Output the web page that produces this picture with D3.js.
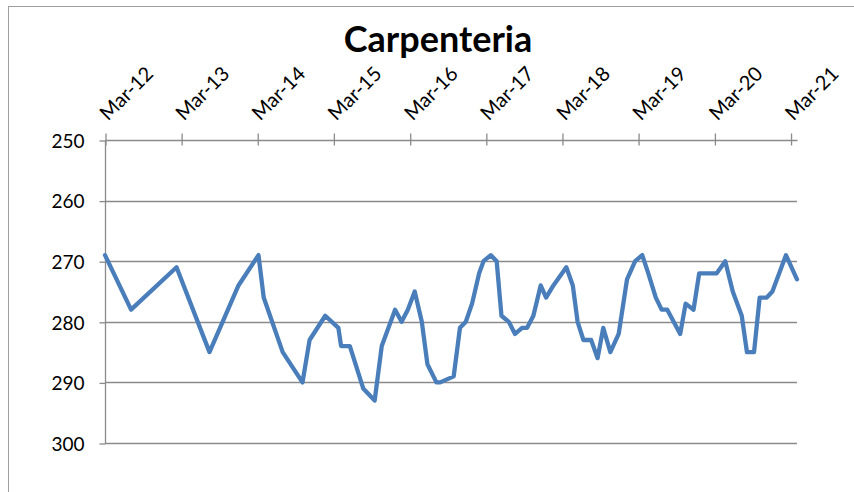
<!DOCTYPE html>
<html>
<head>
<meta charset="utf-8">
<script src="https://cdn.jsdelivr.net/npm/d3@7"></script>
<style>
  body { margin: 0; background: #fff; }
  svg { display: block; font-family: Lato, "Open Sans", sans-serif; }
  svg text { font-family: Lato, "Open Sans", sans-serif; }
</style>
</head>
<body>
<div id="chart"></div>
<script>
// --- data ---
const dates = [
  "2012-03-01", "2012-07-04", "2013-02-07", "2013-07-15", "2013-12-01",
  "2014-03-07", "2014-04-01", "2014-07-01", "2014-10-04", "2014-11-07",
  "2015-01-21", "2015-03-25", "2015-04-07", "2015-05-19", "2015-07-22",
  "2015-09-15", "2015-10-19", "2015-12-22", "2016-01-22", "2016-02-21",
  "2016-03-25", "2016-04-28", "2016-05-25", "2016-07-07", "2016-07-25",
  "2016-09-28", "2016-10-28", "2016-11-25", "2016-12-25", "2017-01-28",
  "2017-02-18", "2017-03-25", "2017-04-22", "2017-05-15", "2017-06-19",
  "2017-07-19", "2017-08-22", "2017-09-15", "2017-10-15", "2017-11-19",
  "2017-12-15", "2018-01-19", "2018-03-22", "2018-04-22", "2018-05-15",
  "2018-06-12", "2018-07-19", "2018-08-19", "2018-09-15", "2018-10-19",
  "2018-11-28", "2019-01-07", "2019-02-15", "2019-03-21", "2019-04-19",
  "2019-05-25", "2019-06-22", "2019-07-19", "2019-09-19", "2019-10-15",
  "2019-11-22", "2019-12-19", "2020-03-12", "2020-04-22", "2020-05-28",
  "2020-07-10", "2020-08-04", "2020-09-07", "2020-10-04", "2020-11-07",
  "2020-12-04", "2021-02-07", "2021-04-01"
];
const values = [
  269, 278, 271, 285, 274,
  269, 276, 285, 290, 283,
  279, 281, 284, 284, 291,
  293, 284, 278, 280, 278,
  275, 280, 287, 290, 290,
  289, 281, 280, 277, 272,
  270, 269, 270, 279, 280,
  282, 281, 281, 279, 274,
  276, 274, 271, 274, 280,
  283, 283, 286, 281, 285,
  282, 273, 270, 269, 272,
  276, 278, 278, 282, 277,
  278, 272, 272, 270, 275,
  279, 285, 285, 276, 276,
  275, 269, 273
];
const xTickLabels = ["Mar-12", "Mar-13", "Mar-14", "Mar-15", "Mar-16",
                     "Mar-17", "Mar-18", "Mar-19", "Mar-20", "Mar-21"];
const yTicks = [250, 260, 270, 280, 290, 300];
const title = "Carpenteria";

const parseDate = d3.timeParse("%Y-%m-%d");
const parseTick = d3.timeParse("%b-%y");
const points = dates.map((d, i) => ({ date: parseDate(d), value: values[i] }));

// --- dimensions ---
const width = 854;
const height = 492;
const plot = { left: 105, right: 797, top: 140, bottom: 443 };
const gridColor = "#8a8a8a";
const font = "Lato, 'Open Sans', sans-serif";

const svg = d3.select("#chart")
  .append("svg")
  .attr("width", width)
  .attr("height", height);

// chart frame (only left/top edges fall inside the picture)
svg.append("rect")
  .attr("x", 8.5).attr("y", 6.5)
  .attr("width", 1000).attr("height", 1000)
  .attr("fill", "none")
  .attr("stroke", "#a0a0a0");

// scales
const x = d3.scaleTime()
  .domain(d3.extent(points, d => d.date))
  .range([plot.left, plot.right]);

const y = d3.scaleLinear()
  .domain([250, 300])
  .range([plot.top, plot.bottom]);

// gridlines
svg.append("g")
  .selectAll("line")
  .data(yTicks.slice(1))
  .join("line")
    .attr("x1", plot.left).attr("x2", plot.right)
    .attr("y1", d => Math.round(y(d)) + 0.5)
    .attr("y2", d => Math.round(y(d)) + 0.5)
    .attr("stroke", gridColor)
    .attr("stroke-width", 1.3);

// y axis
const yAxis = svg.append("g")
  .attr("transform", `translate(${plot.left + 0.5}, 0.5)`)
  .call(d3.axisLeft(y).tickValues(yTicks).tickSize(6).tickPadding(15));
yAxis.attr("font-family", font);
yAxis.select(".domain").attr("stroke", gridColor).attr("stroke-width", 1.3)
  .attr("d", `M0,${plot.top}V${plot.bottom}`);
yAxis.selectAll(".tick line").attr("stroke", gridColor).attr("stroke-width", 1.3);
yAxis.selectAll(".tick text")
  .attr("font-size", 19)
  .attr("fill", "#000")
  .attr("dy", "0.36em");

// x axis (on top, labels rotated)
const xAxis = svg.append("g")
  .attr("transform", `translate(0.5, ${plot.top + 0.5})`)
  .call(d3.axisTop(x)
    .tickValues(xTickLabels.map(parseTick))
    .tickFormat(d3.timeFormat("%b-%y"))
    .tickSize(7));
xAxis.attr("font-family", font);
xAxis.select(".domain").attr("stroke", gridColor).attr("stroke-width", 1.3)
  .attr("d", `M${plot.left},0H${plot.right}`);
xAxis.selectAll(".tick line")
  .attr("stroke", gridColor).attr("stroke-width", 1.3)
  .attr("y1", 5).attr("y2", -7);
xAxis.selectAll(".tick text")
  .attr("font-size", 20)
  .attr("fill", "#000")
  .attr("text-anchor", "start")
  .attr("x", null).attr("y", null).attr("dy", null)
  .attr("transform", "translate(2, -19) rotate(-45)");

// line
const line = d3.line()
  .x(d => x(d.date))
  .y(d => y(d.value));

svg.append("path")
  .datum(points)
  .attr("d", line)
  .attr("fill", "none")
  .attr("stroke", "#4a7ebb")
  .attr("stroke-width", 4.3)
  .attr("stroke-linejoin", "round")
  .attr("stroke-linecap", "round");

// title
svg.append("text")
  .attr("x", 438)
  .attr("y", 52)
  .attr("text-anchor", "middle")
  .attr("font-size", 36)
  .attr("font-weight", "bold")
  .attr("fill", "#000")
  .text(title);
</script>
</body>
</html>
